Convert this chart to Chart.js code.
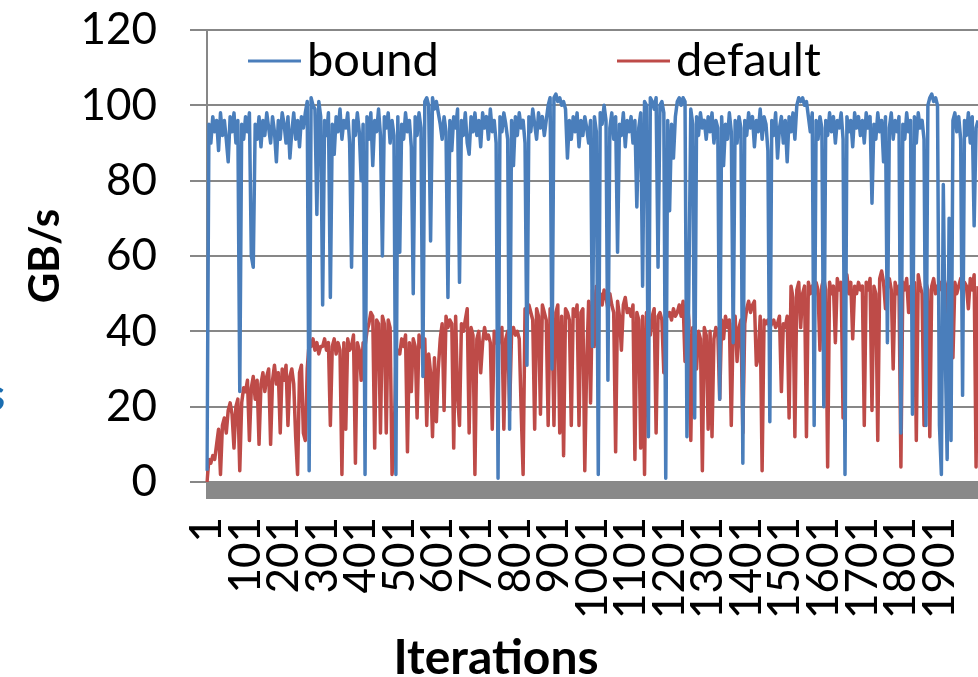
<!DOCTYPE html>
<html lang="en">

<head>
  <meta charset="UTF-8">
  <script src="https://cdn.jsdelivr.net/npm/chart.js"></script>
  <title>Bound vs default</title>
  <style>
    body { margin: 0; background: #fff; }
  </style>
</head>

<body>
  <canvas id="myChart" width="978" height="677"></canvas>
  <script>
    // one sample every 5 iterations, 1 .. 2001
    const iterations = [];
    for (let it = 1; it <= 2001; it += 5) iterations.push(it);

    const yTicks = [0, 20, 40, 60, 80, 100, 120];

    // GB/s, 20 samples per 100 iterations
    const boundGBs = [
      3, 95, 90, 97, 93, 96, 88, 98, 92, 96, 91, 85, 97, 93, 98, 90, 96, 24, 95, 91,
      97, 93, 98, 60, 57, 95, 91, 97, 89, 96, 92, 98, 94, 90, 97, 93, 85, 96, 91, 98,
      95, 90, 97, 86, 93, 98, 91, 96, 89, 97, 94, 98, 101, 3, 102, 100, 99, 71, 101, 97,
      47, 96, 92, 98, 49, 95, 87, 97, 93, 99, 91, 96, 94, 98, 90, 57, 96, 92, 98, 93,
      80, 95, 2, 97, 91, 98, 84, 96, 93, 99, 92, 60, 97, 94, 98, 90, 96, 92, 2, 97,
      61, 95, 91, 98, 93, 96, 89, 50, 97, 92, 98, 94, 28, 101, 102, 100, 64, 102, 99, 101,
      98, 95, 91, 97, 93, 49, 96, 88, 97, 94, 99, 53, 96, 92, 98, 90, 87, 97, 93, 98,
      92, 96, 89, 98, 94, 97, 91, 99, 93, 96, 90, 1, 97, 93, 98, 95, 91, 14, 96, 84,
      97, 92, 98, 94, 96, 90, 31, 97, 93, 99, 95, 91, 98, 94, 97, 92, 96, 100, 102, 30,
      102, 103, 101, 102, 100, 101, 99, 86, 96, 91, 97, 93, 98, 89, 96, 92, 97, 94, 90, 96,
      36, 97, 93, 2, 98, 95, 100, 96, 27, 94, 98, 91, 97, 61, 95, 92, 98, 89, 96, 93,
      97, 90, 96, 73, 94, 98, 52, 101, 100, 12, 102, 101, 99, 102, 57, 100, 101, 98, 1, 96,
      72, 95, 86, 97, 101, 102, 100, 102, 101, 12, 52, 99, 95, 17, 97, 92, 98, 94, 96, 91,
      97, 93, 98, 90, 96, 94, 22, 97, 84, 95, 91, 98, 93, 37, 96, 90, 97, 94, 5, 96,
      92, 98, 94, 97, 89, 96, 93, 99, 91, 97, 95, 88, 16, 96, 92, 98, 86, 94, 97, 90,
      96, 85, 97, 93, 98, 91, 100, 102, 101, 102, 100, 101, 97, 93, 98, 15, 96, 91, 97, 94,
      20, 96, 92, 98, 93, 97, 90, 96, 94, 98, 91, 2, 97, 93, 96, 89, 98, 94, 97, 92,
      96, 90, 98, 94, 97, 74, 95, 91, 98, 93, 96, 85, 97, 37, 94, 98, 91, 96, 93, 97,
      13, 95, 91, 98, 93, 96, 18, 97, 90, 98, 94, 96, 91, 15, 100, 102, 103, 101, 102, 100,
      15, 2, 79, 35, 6, 70, 11, 96, 98, 93, 97, 91, 23, 96, 92, 98, 90, 97, 68, 94,
      96
    ];

    const defaultGBs = [
      0, 6, 5, 7, 6, 10, 14, 2, 15, 17, 13, 19, 21, 18, 9, 20, 22, 3, 21, 25,
      24, 27, 11, 25, 28, 22, 27, 10, 26, 29, 24, 28, 30, 10, 27, 31, 26, 29, 13, 30,
      27, 31, 15, 28, 30, 26, 12, 2, 29, 31, 13, 11, 30, 37, 36, 38, 35, 37, 34, 36,
      36, 38, 35, 37, 15, 36, 38, 34, 37, 35, 2, 37, 14, 38, 35, 36, 39, 5, 37, 35,
      27, 37, 36, 40, 42, 45, 44, 9, 43, 42, 13, 44, 42, 13, 43, 41, 2, 8, 33, 35,
      34, 38, 36, 39, 8, 37, 24, 38, 36, 17, 39, 37, 35, 38, 15, 34, 29, 12, 33, 16,
      30, 38, 42, 19, 44, 41, 43, 42, 9, 44, 23, 15, 42, 40, 43, 46, 13, 41, 39, 2,
      38, 40, 29, 37, 41, 38, 39, 37, 14, 40, 38, 36, 39, 41, 14, 38, 40, 19, 39, 41,
      39, 40, 38, 19, 2, 46, 44, 47, 45, 43, 14, 46, 44, 18, 47, 45, 43, 15, 46, 44,
      15, 45, 47, 13, 44, 7, 46, 45, 43, 15, 46, 44, 47, 15, 45, 46, 3, 32, 48, 21,
      51, 36, 52, 48, 50, 47, 51, 49, 46, 50, 47, 45, 8, 48, 44, 35, 47, 49, 45, 46,
      44, 47, 6, 45, 43, 9, 44, 2, 45, 43, 39, 44, 46, 13, 44, 45, 43, 29, 46, 44,
      45, 43, 46, 44, 45, 47, 44, 48, 32, 49, 43, 11, 41, 39, 30, 40, 38, 3, 41, 39,
      14, 40, 12, 38, 41, 40, 22, 43, 38, 44, 41, 43, 15, 42, 44, 32, 41, 43, 13, 42,
      46, 48, 45, 47, 48, 31, 33, 44, 3, 43, 42, 43, 41, 42, 43, 41, 42, 44, 24, 42,
      41, 44, 17, 52, 49, 12, 51, 53, 41, 50, 52, 12, 53, 50, 52, 49, 53, 51, 35, 52,
      54, 51, 4, 53, 50, 52, 37, 54, 51, 53, 17, 52, 55, 50, 53, 38, 52, 50, 53, 51,
      52, 15, 53, 51, 54, 19, 52, 50, 11, 54, 56, 53, 46, 52, 54, 51, 30, 53, 50, 52,
      4, 53, 51, 54, 45, 52, 50, 53, 11, 55, 52, 50, 15, 53, 51, 12, 52, 54, 50, 52,
      51, 53, 50, 45, 52, 54, 51, 33, 53, 50, 52, 54, 51, 53, 52, 46, 54, 51, 55, 4,
      52
    ];

    const blue = '#4a7ebb';
    const red = '#be4b48';
    const axisGray = '#878787';
    const fontFamily = 'Lato, "Open Sans", sans-serif';

    // keep the plot box fixed: no extra room for overhanging labels
    function noOverhang(scale) {
      scale.paddingTop = 0;
      scale.paddingBottom = 0;
      scale.paddingLeft = 0;
      scale.paddingRight = 0;
    }

    // thick grey floor under the plot
    const floorBand = {
      id: 'floorBand',
      beforeDatasetsDraw(chart) {
        const { ctx, chartArea } = chart;
        ctx.save();
        ctx.fillStyle = '#898989';
        ctx.fillRect(chartArea.left - 1, chartArea.bottom, chartArea.right - chartArea.left + 1, 17);
        ctx.restore();
      }
    };

    // legend inside the plot and the x title centred on the whole
    // (uncropped) figure, like the Excel original
    const extras = {
      id: 'extras',
      afterDraw(chart) {
        const { ctx, chartArea } = chart;
        const spots = [chartArea.left + 41, chartArea.left + 410];
        ctx.save();
        ctx.font = '47px ' + fontFamily;
        ctx.textBaseline = 'alphabetic';
        chart.data.datasets.forEach((ds, i) => {
          const x = spots[i];
          ctx.strokeStyle = ds.borderColor;
          ctx.lineWidth = 3;
          ctx.beginPath();
          ctx.moveTo(x, 61);
          ctx.lineTo(x + 53, 61);
          ctx.stroke();
          ctx.fillStyle = '#000';
          ctx.fillText(ds.label, x + 59, 76);
        });

        ctx.font = 'bold 48px ' + fontFamily;
        ctx.textAlign = 'center';
        ctx.fillText('Iterations', 496, 674);

        // edge of a neighbouring figure's label, cut by the crop
        ctx.fillStyle = '#1a6db0';
        ctx.font = 'bold 44px ' + fontFamily;
        ctx.textAlign = 'right';
        ctx.fillText('s', 5, 410);
        ctx.restore();
      }
    };

    new Chart('myChart', {
      type: 'line',
      data: {
        labels: iterations,
        datasets: [{
          label: 'bound',
          data: boundGBs,
          borderColor: blue,
          backgroundColor: blue,
          borderWidth: 3.5
        }, {
          label: 'default',
          data: defaultGBs,
          borderColor: red,
          backgroundColor: red,
          borderWidth: 3.5
        }]
      },
      options: {
        responsive: false,
        animation: false,
        devicePixelRatio: 1,
        layout: { padding: { top: 30, right: 0, bottom: 0, left: 0 } },
        elements: {
          point: { radius: 0 },
          line: { tension: 0, borderJoinStyle: 'round' }
        },
        plugins: {
          legend: { display: false },
          tooltip: { enabled: false }
        },
        scales: {
          x: {
            type: 'category',
            offset: false,
            grid: { display: false, drawTicks: false },
            border: { display: false },
            ticks: {
              autoSkip: false,
              minRotation: 90,
              maxRotation: 90,
              padding: 35,
              color: '#000',
              font: { family: fontFamily, size: 44 },
              callback: function (value) {
                const it = this.getLabelForValue(value);
                return (it - 1) % 100 === 0 && it < 2001 ? String(it) : '';
              }
            },
            afterFit(scale) {
              scale.height = 195;
              noOverhang(scale);
            }
          },
          y: {
            min: 0,
            max: 120,
            afterBuildTicks(scale) { scale.ticks = yTicks.map(v => ({ value: v })); },
            grid: { color: axisGray, lineWidth: 2, tickLength: 17 },
            border: { color: axisGray, width: 2 },
            ticks: {
              padding: 33,
              color: '#000',
              font: { family: fontFamily, size: 44 }
            },
            title: {
              display: true,
              text: 'GB/s',
              color: '#000',
              font: { family: fontFamily, size: 42, weight: 'bold', lineHeight: 1.2 },
              padding: { top: 20, bottom: 0 }
            },
            afterFit(scale) {
              scale.width = 207;
              noOverhang(scale);
            }
          }
        }
      },
      plugins: [floorBand, extras]
    });
  </script>
</body>

</html>
